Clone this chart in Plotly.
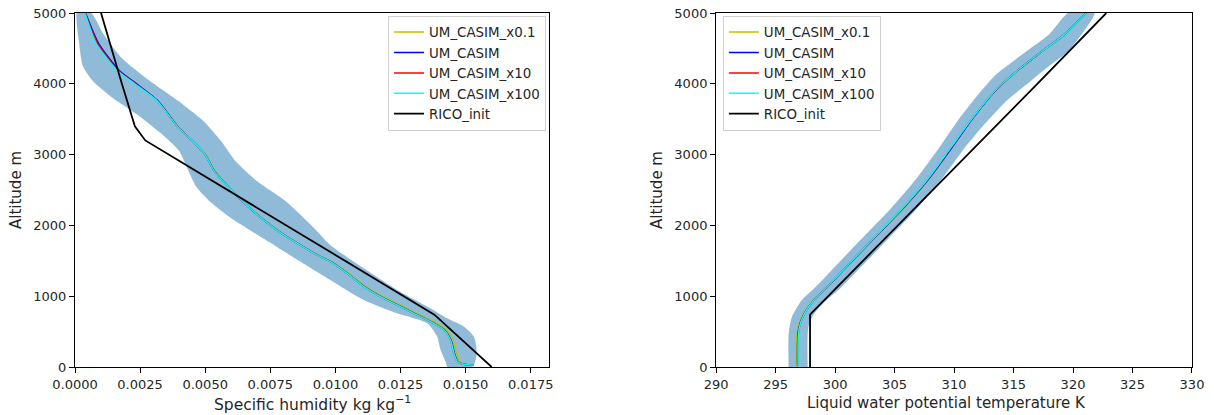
import plotly.graph_objects as go

# ---------------- Left panel: specific humidity ----------------
q_names = ["UM_CASIM_x0.1", "UM_CASIM", "UM_CASIM_x10", "UM_CASIM_x100", "RICO_init"]
q_colors = ["#bfbf00", "#0000ff", "#ff0000", "#00ffff", "#000000"]

q_mean_z = [25, 38, 75, 193, 381, 523, 640, 758, 876, 993, 1135, 1323, 1488, 1600,
            1920, 2250, 2490, 2770, 3000, 3190, 3380, 3760, 3990, 4180, 4560, 5000]
q_x01 = [0.01525, 0.01500, 0.01478, 0.01465, 0.01452, 0.01428, 0.01378, 0.01313, 0.01249,
         0.01183, 0.01117, 0.01050, 0.00985, 0.00922, 0.00783, 0.00671, 0.00605, 0.00537,
         0.00502, 0.00454, 0.00399, 0.00317, 0.00237, 0.00167, 0.00085, 0.00040]
q_ctl = [0.01530, 0.01495, 0.01470, 0.01457, 0.01444, 0.01419, 0.01367, 0.01303, 0.01239,
         0.01175, 0.01111, 0.01046, 0.00982, 0.00921, 0.00781, 0.00670, 0.00603, 0.00535,
         0.00500, 0.00452, 0.00398, 0.00318, 0.00240, 0.00172, 0.00092, 0.00040]
q_x10 = [0.01530, 0.01494, 0.01468, 0.01455, 0.01442, 0.01417, 0.01365, 0.01301, 0.01237,
         0.01173, 0.01109, 0.01045, 0.00981, 0.00920, 0.00780, 0.00670, 0.00603, 0.00534,
         0.00500, 0.00452, 0.00397, 0.00316, 0.00236, 0.00168, 0.00088, 0.00039]
q_x100 = [0.01530, 0.01494, 0.01468, 0.01455, 0.01442, 0.01417, 0.01365, 0.01301, 0.01237,
          0.01173, 0.01109, 0.01045, 0.00981, 0.00920, 0.00780, 0.00670, 0.00603, 0.00534,
          0.00500, 0.00452, 0.00397, 0.00315, 0.00233, 0.00164, 0.00082, 0.00038]

q_rico_z = [0, 740, 3200, 3400, 4000, 5000]
q_rico = [0.0160, 0.0138, 0.0027, 0.0023, 0.0018, 0.0010]

q_band_low_z = [0, 75, 240, 428, 617, 758, 946, 1229, 1500, 1800, 2100, 2330, 2550,
                2800, 3050, 3300, 3550, 3800, 4040, 4250, 4600, 5000]
q_band_low = [0.01429, 0.01423, 0.01404, 0.01391, 0.01353, 0.01237, 0.01109, 0.00980,
              0.00860, 0.00730, 0.00600, 0.00520, 0.00465, 0.00432, 0.00400, 0.00330,
              0.00245, 0.00145, 0.00068, 0.00030, 0.00015, 0.00008]
q_band_high_z = [0, 28, 146, 287, 428, 570, 687, 829, 1088, 1394, 1723, 1968, 2345,
                 2627, 2910, 3192, 3475, 3757, 4040, 4369, 4699, 5000]
q_band_high = [0.01526, 0.01532, 0.01541, 0.01541, 0.01532, 0.01494, 0.01429, 0.01365,
               0.01237, 0.01109, 0.00980, 0.00917, 0.00808, 0.00698, 0.00616, 0.00561,
               0.00493, 0.00397, 0.00288, 0.00178, 0.00110, 0.00062]

# ---------------- Right panel: liquid water potential temperature ----------------
t_mean_z = [25, 367, 556, 744, 932, 1168, 1497, 1874, 2250, 2674, 3098, 3522, 3898,
            4181, 4463, 4699, 5000]
t_x01 = [296.75, 296.76, 296.88, 297.32, 298.12, 299.55, 301.45, 303.65, 305.80, 307.95,
         309.78, 311.60, 313.45, 315.30, 317.45, 319.30, 321.10]
t_ctl = [296.85, 296.86, 296.97, 297.38, 298.17, 299.57, 301.43, 303.60, 305.76, 307.95,
         309.82, 311.62, 313.45, 315.28, 317.43, 319.28, 321.10]
t_x10 = [296.88, 296.88, 296.99, 297.40, 298.17, 299.55, 301.40, 303.57, 305.72, 307.90,
         309.75, 311.58, 313.42, 315.27, 317.43, 319.28, 321.10]
t_x100 = [296.90, 296.90, 297.00, 297.40, 298.17, 299.55, 301.40, 303.56, 305.70, 307.87,
          309.72, 311.57, 313.42, 315.27, 317.43, 319.28, 321.10]

t_rico_z = [0, 740, 4000, 5000]
t_rico = [297.9, 297.9, 317.0, 322.8]

t_band_low_z = [0, 461, 697, 932, 1168, 1497, 1874, 2250, 2674, 3098, 3475, 3851, 4134,
                4416, 4699, 5000]
t_band_low = [296.10, 296.10, 296.35, 297.15, 298.60, 300.45, 302.60, 304.75, 306.90,
              308.75, 310.30, 312.05, 313.55, 315.75, 318.00, 319.60]
t_band_high_z = [0, 556, 744, 932, 1121, 1450, 1827, 2203, 2627, 3051, 3427, 3757, 3992,
                 4228, 4463, 5000]
t_band_high = [297.70, 297.75, 298.20, 299.20, 300.50, 302.40, 304.55, 306.70, 308.85,
               310.70, 312.55, 314.40, 316.10, 317.80, 319.60, 321.80]

x_titles = ["Specific humidity kg kg<sup>−1</sup>", "Liquid water potential temperature K"]
y_title = "Altitude m"

band_color = "rgba(31,119,180,0.5)"

fig = go.Figure()


def add_panel(xa, ya, legend, band_low, band_low_z, band_high, band_high_z,
              means, mean_z, rico, rico_z):
    fig.add_trace(go.Scatter(
        x=list(band_low) + list(band_high)[::-1],
        y=list(band_low_z) + list(band_high_z)[::-1],
        fill="toself", fillcolor=band_color, mode="lines",
        line=dict(width=0, shape="spline", smoothing=0.6),
        showlegend=False, hoverinfo="skip", xaxis=xa, yaxis=ya))
    for name, color, vals in zip(q_names[:4], q_colors[:4], means):
        fig.add_trace(go.Scatter(
            x=vals, y=mean_z, mode="lines", name=name,
            line=dict(color=color, width=1.5, shape="spline", smoothing=0.6),
            xaxis=xa, yaxis=ya, legend=legend))
    fig.add_trace(go.Scatter(
        x=rico, y=rico_z, mode="lines", name=q_names[4],
        line=dict(color=q_colors[4], width=1.8),
        xaxis=xa, yaxis=ya, legend=legend))


add_panel("x", "y", "legend", q_band_low, q_band_low_z, q_band_high, q_band_high_z,
          [q_x01, q_ctl, q_x10, q_x100], q_mean_z, q_rico, q_rico_z)
add_panel("x2", "y2", "legend2", t_band_low, t_band_low_z, t_band_high, t_band_high_z,
          [t_x01, t_ctl, t_x10, t_x100], t_mean_z, t_rico, t_rico_z)

font = "DejaVu Sans, sans-serif"
txt = "#262626"
axis_common = dict(showline=True, linecolor="black", linewidth=1, mirror=True,
                   ticks="outside", ticklen=5, tickcolor="black", showgrid=False,
                   zeroline=False, automargin=False, ticklabeloverflow="allow",
                   tickfont=dict(size=13, color=txt))
ytitle = dict(text=y_title, font=dict(size=15, color=txt), standoff=8)
yticks = [0, 1000, 2000, 3000, 4000, 5000]

fig.update_layout(
    width=1214, height=415,
    margin=dict(l=75, r=22, t=13, b=48),
    paper_bgcolor="white", plot_bgcolor="white",
    font=dict(family=font, color=txt),
    xaxis=dict(domain=[0, 0.4243], range=[0, 0.0182],
               tickvals=[0, 0.0025, 0.005, 0.0075, 0.01, 0.0125, 0.015, 0.0175],
               ticktext=["0.0000", "0.0025", "0.0050", "0.0075", "0.0100", "0.0125",
                         "0.0150", "0.0175"],
               **axis_common),
    yaxis=dict(domain=[0, 1], range=[0, 5000], tickvals=yticks, title=ytitle,
               anchor="x", **axis_common),
    xaxis2=dict(domain=[0.5739, 1], range=[290, 330], tickvals=list(range(290, 331, 5)),
                anchor="y2", **axis_common),
    yaxis2=dict(domain=[0, 1], range=[0, 5000], tickvals=yticks, title=ytitle,
                anchor="x2", **axis_common),
    legend=dict(x=0.4217, y=0.992, xanchor="right", yanchor="top",
                bgcolor="rgba(255,255,255,0.8)", bordercolor="#d0d0d0", borderwidth=1,
                font=dict(size=13.4, color=txt), tracegroupgap=0, itemwidth=30),
    legend2=dict(x=0.580, y=0.992, xanchor="left", yanchor="top",
                 bgcolor="rgba(255,255,255,0.8)", bordercolor="#d0d0d0", borderwidth=1,
                 font=dict(size=13.4, color=txt), tracegroupgap=0, itemwidth=30),
    annotations=[
        dict(text=x_titles[0], xref="paper", yref="paper", x=0.2126, y=-0.1017,
             xanchor="center", yanchor="middle", showarrow=False,
             font=dict(size=15.5, color=txt)),
        dict(text=x_titles[1], xref="paper", yref="paper", x=0.7798, y=-0.1017,
             xanchor="center", yanchor="middle", showarrow=False,
             font=dict(size=15, color=txt)),
    ],
)

fig.write_html("out.html", config={"displayModeBar": False},
               post_script="document.body.style.margin='0';")
